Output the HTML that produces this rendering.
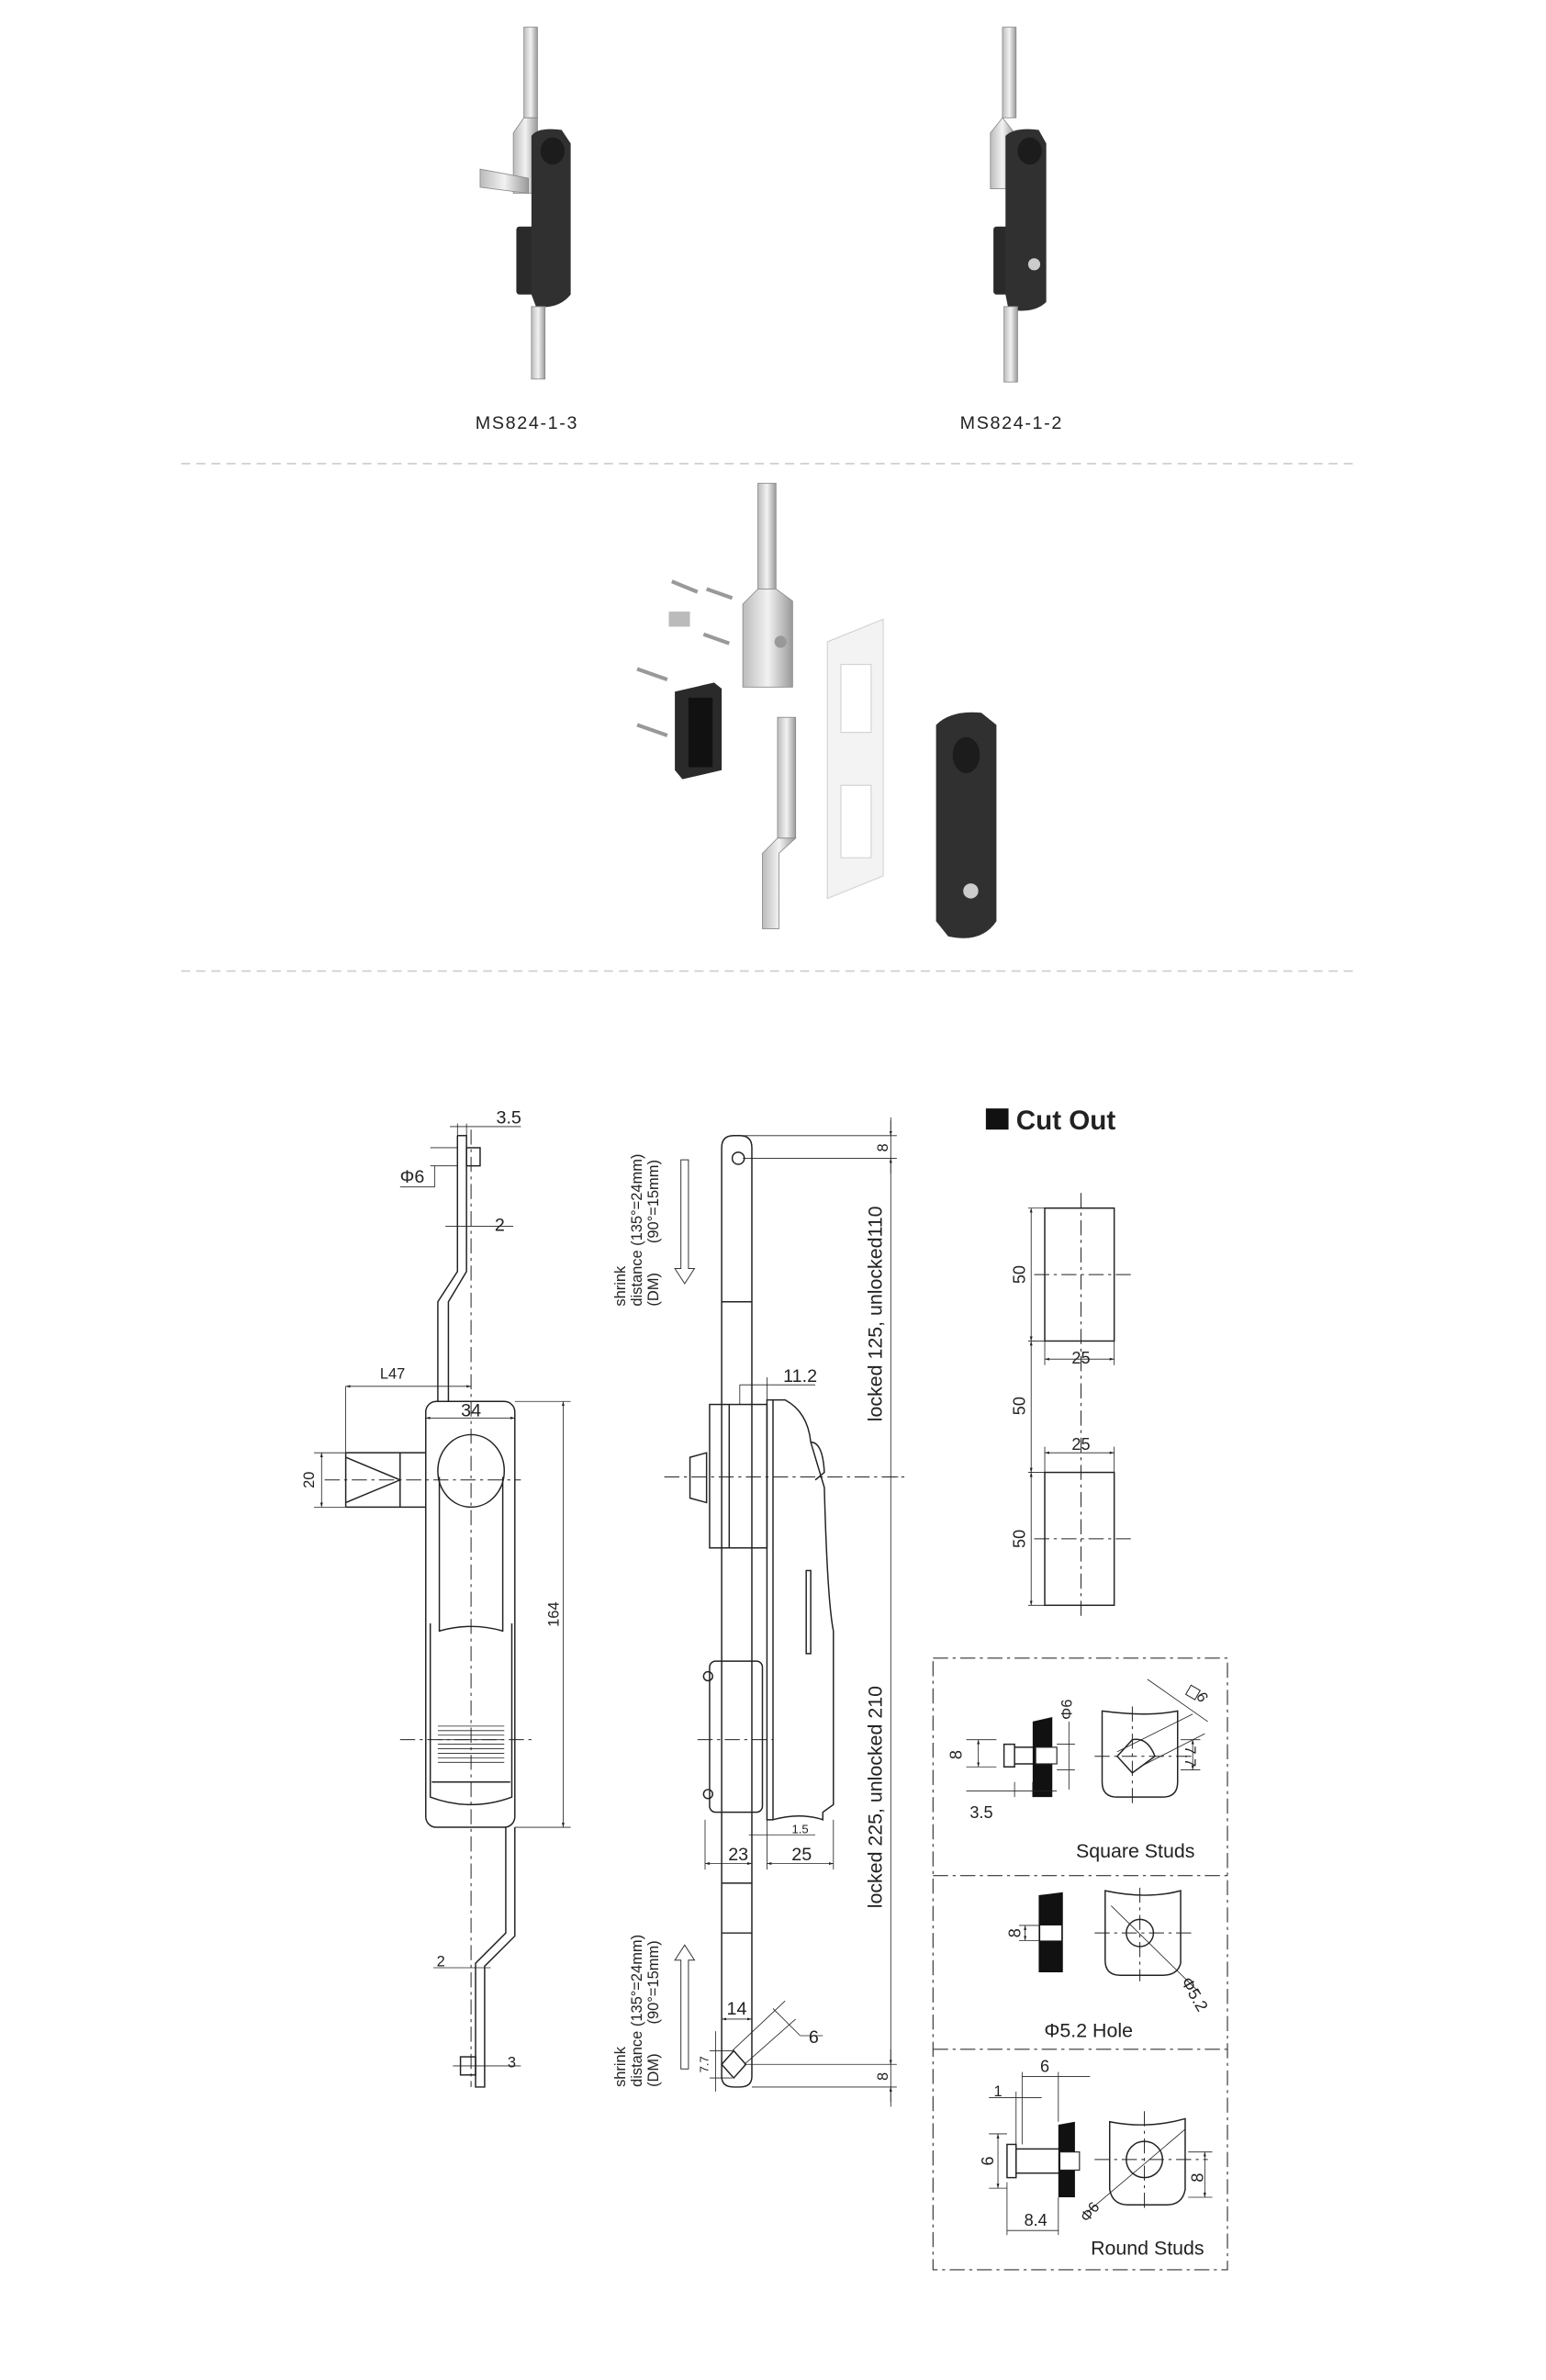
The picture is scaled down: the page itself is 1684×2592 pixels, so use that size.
<!DOCTYPE html>
<html><head><meta charset="utf-8"><style>
html,body{margin:0;padding:0;background:#fff}
svg{display:block}
text{font-family:"Liberation Sans",sans-serif;fill:#222}
.l{fill:none;stroke:#222;stroke-width:.9}
.t{fill:none;stroke:#222;stroke-width:.5}
.c{fill:none;stroke:#222;stroke-width:.6;stroke-dasharray:10 3 2 3}
</style></head><body>
<svg width="1684" height="2592" viewBox="0 0 1024 1576" preserveAspectRatio="none" xmlns="http://www.w3.org/2000/svg">
<defs>
<marker id="a" viewBox="0 0 10 10" refX="10" refY="5" markerWidth="6" markerHeight="6" orient="auto-start-reverse"><path d="M0,2L10,5L0,8z" fill="#222"/></marker>
<linearGradient id="m" x1="0" x2="1"><stop offset="0" stop-color="#bbb"/><stop offset=".5" stop-color="#f2f2f2"/><stop offset="1" stop-color="#999"/></linearGradient>
</defs>
<!-- product 1 -->
<g>
<rect x="347" y="18" width="9" height="60" fill="url(#m)" stroke="#888" stroke-width=".5"/>
<path d="M347,78 L340,88 L340,128 L356,128 L356,88 L356,78z" fill="url(#m)" stroke="#888" stroke-width=".5"/>
<path d="M318,112 L350,118 L350,128 L318,124z" fill="url(#m)" stroke="#888" stroke-width=".5"/>
<rect x="342" y="150" width="20" height="45" rx="2" fill="#2a2a2a"/>
<path d="M352,90 Q356,84 372,86 L378,95 L378,195 Q370,205 355,203 L352,195z" fill="#303030"/>
<ellipse cx="366" cy="100" rx="8" ry="9" fill="#1c1c1c"/>
<rect x="352" y="203" width="9" height="48" fill="url(#m)" stroke="#888" stroke-width=".5"/>
</g>
<!-- product 2 -->
<g>
<rect x="664" y="18" width="9" height="60" fill="url(#m)" stroke="#888" stroke-width=".5"/>
<path d="M664,78 L656,88 L656,125 L672,125 L672,88z" fill="url(#m)" stroke="#888" stroke-width=".5"/>
<rect x="658" y="150" width="20" height="45" rx="2" fill="#2a2a2a"/>
<path d="M666,90 Q672,84 688,86 L693,95 L693,200 Q685,208 668,205 L666,195z" fill="#303030"/>
<ellipse cx="682" cy="100" rx="8" ry="9" fill="#1c1c1c"/>
<circle cx="685" cy="175" r="4" fill="#ccc"/>
<rect x="665" y="203" width="9" height="50" fill="url(#m)" stroke="#888" stroke-width=".5"/>
</g>
<text x="349" y="284" font-size="12" text-anchor="middle" letter-spacing="1">MS824-1-3</text>
<text x="670" y="284" font-size="12" text-anchor="middle" letter-spacing="1">MS824-1-2</text>
<line x1="120" y1="307" x2="897" y2="307" stroke="#ccc" stroke-width="1" stroke-dasharray="6 4"/>
<line x1="120" y1="643" x2="897" y2="643" stroke="#ccc" stroke-width="1" stroke-dasharray="6 4"/>
<!-- exploded -->
<g>
<rect x="502" y="320" width="12" height="70" fill="url(#m)" stroke="#888" stroke-width=".5"/>
<path d="M502,390 L492,400 L492,455 L525,455 L525,398 L514,390z" fill="url(#m)" stroke="#888" stroke-width=".5"/>
<circle cx="517" cy="425" r="4" fill="#999"/>
<rect x="515" y="475" width="12" height="80" fill="url(#m)" stroke="#888" stroke-width=".5"/>
<path d="M515,555 L505,565 L505,615 L516,615 L516,565 L527,555z" fill="url(#m)" stroke="#888" stroke-width=".5"/>
<path d="M548,425 L585,410 L585,580 L548,595z" fill="#f3f3f3" stroke="#ccc" stroke-width=".6"/>
<rect x="557" y="440" width="20" height="45" fill="#fff" stroke="#ccc" stroke-width=".6"/>
<rect x="557" y="520" width="20" height="48" fill="#fff" stroke="#ccc" stroke-width=".6"/>
<path d="M447,458 L473,452 L478,456 L478,510 L452,516 L447,510z" fill="#2a2a2a"/>
<rect x="456" y="462" width="16" height="46" fill="#111"/>
<path d="M620,480 Q630,470 650,472 L660,480 L660,610 Q650,625 628,620 L620,610z" fill="#303030"/>
<ellipse cx="640" cy="500" rx="9" ry="12" fill="#1c1c1c"/>
<circle cx="643" cy="590" r="5" fill="#ccc"/>
<g stroke="#999" stroke-width="2.5"><line x1="468" y1="390" x2="485" y2="396"/><line x1="445" y1="385" x2="462" y2="392"/><line x1="466" y1="420" x2="483" y2="426"/><line x1="422" y1="443" x2="442" y2="450"/><line x1="422" y1="480" x2="442" y2="487"/></g>
<rect x="443" y="405" width="14" height="10" fill="#bbb"/>
</g>
<!-- LEFT DRAWING -->
<g>
<line class="c" x1="312" y1="748" x2="312" y2="1382"/>
<path class="l" d="M303,752 L309,752 L309,842 L297,862 L297,928 M303,752 L303,842 L290,862 L290,928"/>
<rect class="l" x="309" y="760" width="9" height="12"/>
<rect class="l" x="282" y="928" width="59" height="282" rx="7"/>
<path class="l" d="M229,962 L282,962 M229,998 L282,998 M229,962 L229,998 M229,965 L265,980 L229,995 M265,962 L265,998"/>
<ellipse class="l" cx="312" cy="974" rx="22" ry="24"/>
<path class="l" d="M291,978 L291,1080 Q312,1074 333,1080 L333,978"/>
<path class="l" d="M285,1075 L285,1190 Q312,1200 339,1190 L339,1075 M286,1180 L338,1180"/>
<g class="t"><line x1="290" y1="1143" x2="334" y2="1143"/><line x1="290" y1="1146" x2="334" y2="1146"/><line x1="290" y1="1149" x2="334" y2="1149"/><line x1="290" y1="1152" x2="334" y2="1152"/><line x1="290" y1="1155" x2="334" y2="1155"/><line x1="290" y1="1158" x2="334" y2="1158"/><line x1="290" y1="1161" x2="334" y2="1161"/><line x1="290" y1="1164" x2="334" y2="1164"/><line x1="290" y1="1167" x2="334" y2="1167"/></g>
<line class="c" x1="265" y1="1152" x2="355" y2="1152"/>
<line class="c" x1="215" y1="980" x2="345" y2="980"/>
<path class="l" d="M335,1210 L335,1280 L315,1300 L315,1382 L321,1382 L321,1302 L341,1282 L341,1210"/>
<rect class="l" x="305" y="1362" width="10" height="12"/>
<g class="t">
<line x1="229" y1="918" x2="312" y2="918" marker-start="url(#a)" marker-end="url(#a)"/><line x1="229" y1="918" x2="229" y2="962"/>
<line x1="282" y1="939" x2="341" y2="939" marker-start="url(#a)" marker-end="url(#a)"/>
<line x1="208" y1="962" x2="229" y2="962"/><line x1="208" y1="998" x2="229" y2="998"/>
<line x1="213" y1="962" x2="213" y2="998" marker-start="url(#a)" marker-end="url(#a)"/>
<line x1="341" y1="928" x2="378" y2="928"/><line x1="341" y1="1210" x2="378" y2="1210"/>
<line x1="373" y1="928" x2="373" y2="1210" marker-start="url(#a)" marker-end="url(#a)"/>
<line x1="298" y1="746" x2="345" y2="746"/><line x1="303" y1="744" x2="303" y2="752"/><line x1="309" y1="744" x2="309" y2="752"/>
<line x1="285" y1="760" x2="303" y2="760"/><line x1="285" y1="772" x2="303" y2="772"/><line x1="288" y1="772" x2="288" y2="786"/><line x1="265" y1="786" x2="288" y2="786"/>
<line x1="295" y1="812" x2="340" y2="812"/>
<line x1="287" y1="1303" x2="325" y2="1303"/>
<line x1="300" y1="1368" x2="345" y2="1368"/>
</g>
<text x="337" y="744" font-size="12" text-anchor="middle">3.5</text>
<text x="273" y="783" font-size="12" text-anchor="middle">Φ6</text>
<text x="331" y="815" font-size="12" text-anchor="middle">2</text>
<text x="260" y="913" font-size="10" text-anchor="middle">L47</text>
<text x="312" y="938" font-size="12" text-anchor="middle">34</text>
<text font-size="10" text-anchor="middle" transform="translate(208,980) rotate(-90)">20</text>
<text font-size="10" text-anchor="middle" transform="translate(370,1069) rotate(-90)">164</text>
<text x="292" y="1302" font-size="10" text-anchor="middle">2</text>
<text x="339" y="1369" font-size="10" text-anchor="middle">3</text>
</g>
<!-- MIDDLE DRAWING -->
<g>
<path class="l" d="M478,1375 L478,760 Q478,752 486,752 L490,752 Q498,752 498,760 L498,1375 Q498,1382 490,1382 L486,1382 Q478,1382 478,1375z"/>
<circle class="l" cx="489" cy="767" r="4"/>
<line class="l" x1="478" y1="862" x2="498" y2="862"/><line class="l" x1="478" y1="1247" x2="498" y2="1247"/><line class="l" x1="478" y1="1280" x2="498" y2="1280"/>
<rect class="l" x="470" y="930" width="38" height="95" fill="#fff"/>
<line class="l" x1="483" y1="930" x2="483" y2="1025"/>
<path class="l" d="M457,965 L468,962 L468,995 L457,992z" fill="#fff"/>
<path class="l" d="M508,927 L520,927 Q535,935 537,955 L546,985 Q548,1060 552,1080 L552,1195 L545,1200 L545,1205 Q530,1200 512,1205 L508,1205z" fill="#fff"/>
<line class="l" x1="512" y1="927" x2="512" y2="1205"/>
<path class="l" d="M537,955 Q545,955 546,975 L540,980"/>
<rect class="l" x="534" y="1040" width="3" height="55"/>
<rect class="l" x="470" y="1100" width="35" height="100" rx="4" fill="#fff"/>
<circle class="l" cx="469" cy="1110" r="3"/><circle class="l" cx="469" cy="1188" r="3"/>
<line class="c" x1="440" y1="978" x2="600" y2="978"/>
<line class="c" x1="462" y1="1152" x2="512" y2="1152"/>
<path class="l" d="M486,1358 L494,1367 L486,1376 L478,1367z"/>
<g class="t">
<line x1="489" y1="752" x2="594" y2="752"/><line x1="492" y1="767" x2="594" y2="767"/><line x1="498" y1="1382" x2="594" y2="1382"/><line x1="494" y1="1367" x2="594" y2="1367"/>
<line x1="590" y1="740" x2="590" y2="1395"/>
<line x1="590" y1="742" x2="590" y2="752" marker-end="url(#a)"/><line x1="590" y1="777" x2="590" y2="767" marker-end="url(#a)"/>
<line x1="590" y1="1357" x2="590" y2="1367" marker-end="url(#a)"/><line x1="590" y1="1392" x2="590" y2="1382" marker-end="url(#a)"/>
<line x1="585" y1="978" x2="595" y2="978"/>
<line x1="490" y1="917" x2="540" y2="917"/><line x1="490" y1="917" x2="490" y2="930"/><line x1="508" y1="912" x2="508" y2="927"/>
<line x1="467" y1="1205" x2="467" y2="1238"/><line x1="498" y1="1205" x2="498" y2="1238"/><line x1="552" y1="1205" x2="552" y2="1238"/><line x1="508" y1="1205" x2="508" y2="1238"/>
<line x1="467" y1="1234" x2="498" y2="1234" marker-start="url(#a)" marker-end="url(#a)"/>
<line x1="508" y1="1234" x2="552" y2="1234" marker-start="url(#a)" marker-end="url(#a)"/>
<line x1="496" y1="1215" x2="540" y2="1215"/>
<line x1="478" y1="1337" x2="498" y2="1337" marker-start="url(#a)" marker-end="url(#a)"/>
<line x1="512" y1="1330" x2="530" y2="1348"/><line x1="530" y1="1348" x2="545" y2="1348"/>
<line x1="485" y1="1358" x2="520" y2="1325"/><line x1="493" y1="1367" x2="527" y2="1337"/>
<line x1="470" y1="1358" x2="485" y2="1358"/><line x1="470" y1="1376" x2="485" y2="1376"/><line x1="474" y1="1345" x2="474" y2="1385"/>
</g>
<path d="M451,768 L456,768 L456,840 L460,840 L453.5,850 L447,840 L451,840z" fill="#fff" stroke="#333" stroke-width=".6"/>
<path d="M451,1370 L456,1370 L456,1298 L460,1298 L453.5,1288 L447,1298 L451,1298z" fill="#fff" stroke="#333" stroke-width=".6"/>
<g font-size="10">
<text transform="translate(414,865) rotate(-90)">shrink</text>
<text transform="translate(425,865) rotate(-90)">distance (135°=24mm)</text>
<text transform="translate(436,865) rotate(-90)">(DM)&#160;&#160;&#160;&#160;&#160;&#160;&#160;(90°=15mm)</text>
<text transform="translate(414,1382) rotate(-90)">shrink</text>
<text transform="translate(425,1382) rotate(-90)">distance (135°=24mm)</text>
<text transform="translate(436,1382) rotate(-90)">(DM)&#160;&#160;&#160;&#160;&#160;&#160;&#160;(90°=15mm)</text>
</g>
<text font-size="13" text-anchor="middle" transform="translate(584,870) rotate(-90)">locked 125, unlocked110</text>
<text font-size="13" text-anchor="middle" transform="translate(584,1190) rotate(-90)">locked 225, unlocked 210</text>
<text font-size="10" text-anchor="middle" transform="translate(588,760) rotate(-90)">8</text>
<text font-size="10" text-anchor="middle" transform="translate(588,1375) rotate(-90)">8</text>
<text x="530" y="915" font-size="12" text-anchor="middle">11.2</text>
<text x="489" y="1232" font-size="12" text-anchor="middle">23</text>
<text x="531" y="1232" font-size="12" text-anchor="middle">25</text>
<text x="530" y="1214" font-size="8" text-anchor="middle">1.5</text>
<text x="488" y="1334" font-size="12" text-anchor="middle">14</text>
<text x="539" y="1353" font-size="12" text-anchor="middle">6</text>
<text font-size="8" text-anchor="middle" transform="translate(469,1367) rotate(-90)">7.7</text>
</g>
<!-- CUT OUT -->
<rect x="653" y="734" width="15" height="14" fill="#111"/>
<text x="673" y="748" font-size="18" font-weight="bold">Cut Out</text>
<g>
<rect class="l" x="692" y="800" width="46" height="88"/>
<rect class="l" x="692" y="975" width="46" height="88"/>
<line class="c" x1="716" y1="790" x2="716" y2="1070"/>
<line class="c" x1="685" y1="844" x2="750" y2="844"/><line class="c" x1="685" y1="1019" x2="750" y2="1019"/>
<g class="t">
<line x1="681" y1="800" x2="692" y2="800"/><line x1="681" y1="888" x2="692" y2="888"/><line x1="681" y1="975" x2="692" y2="975"/><line x1="681" y1="1063" x2="692" y2="1063"/>
<line x1="683" y1="800" x2="683" y2="888" marker-start="url(#a)" marker-end="url(#a)"/>
<line x1="683" y1="888" x2="683" y2="975" marker-start="url(#a)" marker-end="url(#a)"/>
<line x1="683" y1="975" x2="683" y2="1063" marker-start="url(#a)" marker-end="url(#a)"/>
<line x1="692" y1="900" x2="738" y2="900" marker-start="url(#a)" marker-end="url(#a)"/><line x1="692" y1="888" x2="692" y2="904"/><line x1="738" y1="888" x2="738" y2="904"/>
<line x1="692" y1="962" x2="738" y2="962" marker-start="url(#a)" marker-end="url(#a)"/><line x1="692" y1="958" x2="692" y2="975"/><line x1="738" y1="958" x2="738" y2="975"/>
</g>
<g font-size="11" text-anchor="middle">
<text transform="translate(679,844) rotate(-90)">50</text>
<text transform="translate(679,931) rotate(-90)">50</text>
<text transform="translate(679,1019) rotate(-90)">50</text>
<text x="716" y="903">25</text><text x="716" y="960">25</text>
</g>
</g>
<!-- STUDS BOX -->
<g>
<rect x="618" y="1098" width="195" height="405" fill="none" stroke="#333" stroke-width=".7" stroke-dasharray="10 3 2 3"/>
<line x1="618" y1="1242" x2="813" y2="1242" stroke="#333" stroke-width=".7" stroke-dasharray="10 3 2 3"/>
<line x1="618" y1="1357" x2="813" y2="1357" stroke="#333" stroke-width=".7" stroke-dasharray="10 3 2 3"/>
<!-- square studs -->
<path class="l" d="M665,1155 L672,1155 L672,1170 L665,1170z M672,1157 L686,1157 L686,1168 L672,1168"/>
<path d="M684,1140 L697,1137 L697,1190 L684,1190z" fill="#111"/>
<rect x="686" y="1157" width="14" height="11" fill="#fff" stroke="#222" stroke-width=".7"/>
<path class="l" d="M730,1133 Q760,1137 780,1133 L780,1180 Q780,1190 770,1190 L740,1190 Q730,1190 730,1180z"/>
<path class="l" d="M740,1163 L750,1152 Q760,1150 765,1163 L750,1174z"/>
<line class="c" x1="725" y1="1163" x2="790" y2="1163"/><line class="c" x1="750" y1="1130" x2="750" y2="1195"/>
<g class="t">
<line x1="640" y1="1152" x2="660" y2="1152"/><line x1="640" y1="1170" x2="660" y2="1170"/><line x1="648" y1="1152" x2="648" y2="1170" marker-start="url(#a)" marker-end="url(#a)"/>
<line x1="640" y1="1186" x2="700" y2="1186"/><line x1="672" y1="1180" x2="672" y2="1190"/><line x1="684" y1="1180" x2="684" y2="1190"/>
<line x1="700" y1="1155" x2="712" y2="1155"/><line x1="700" y1="1172" x2="712" y2="1172"/><line x1="708" y1="1140" x2="708" y2="1185"/>
<line x1="782" y1="1152" x2="795" y2="1152"/><line x1="782" y1="1172" x2="795" y2="1172"/><line x1="790" y1="1152" x2="790" y2="1172" marker-start="url(#a)" marker-end="url(#a)"/>
<line x1="760" y1="1112" x2="800" y2="1140"/><line x1="740" y1="1160" x2="790" y2="1135"/><line x1="755" y1="1170" x2="798" y2="1148"/>
</g>
<rect x="787" y="1117" width="7" height="7" fill="none" stroke="#222" stroke-width=".6" transform="rotate(30 790 1120)"/>
<text x="650" y="1204" font-size="11" text-anchor="middle">3.5</text>
<text font-size="11" text-anchor="middle" transform="translate(637,1162) rotate(-90)">8</text>
<text font-size="10" text-anchor="middle" transform="translate(710,1132) rotate(-90)">Φ6</text>
<text font-size="10" text-anchor="middle" transform="translate(785,1163) rotate(90)">7.7</text>
<text font-size="10" transform="translate(792,1123) rotate(60)">6</text>
<text x="752" y="1230" font-size="13" text-anchor="middle">Square Studs</text>
<!-- hole -->
<path d="M688,1255 L704,1253 L704,1306 L688,1306z" fill="#111"/>
<rect x="689" y="1275" width="14" height="10" fill="#fff"/>
<g class="t"><line x1="675" y1="1275" x2="688" y2="1275"/><line x1="675" y1="1285" x2="688" y2="1285"/><line x1="679" y1="1275" x2="679" y2="1285" marker-start="url(#a)" marker-end="url(#a)"/></g>
<text font-size="11" text-anchor="middle" transform="translate(676,1280) rotate(-90)">8</text>
<path class="l" d="M732,1252 Q760,1258 782,1252 L782,1300 Q780,1308 770,1308 L742,1308 Q732,1308 732,1298z"/>
<circle class="l" cx="755" cy="1280" r="9"/>
<line class="c" x1="725" y1="1280" x2="790" y2="1280"/><line class="c" x1="755" y1="1250" x2="755" y2="1312"/>
<line class="t" x1="736" y1="1262" x2="795" y2="1320"/>
<text font-size="11" transform="translate(782,1312) rotate(60)">Φ5.2</text>
<text x="721" y="1349" font-size="13" text-anchor="middle">Φ5.2 Hole</text>
<!-- round studs -->
<rect class="l" x="667" y="1420" width="6" height="22"/>
<rect class="l" x="673" y="1423" width="30" height="16"/>
<path d="M701,1407 L712,1405 L712,1455 L701,1455z" fill="#111"/>
<rect x="702" y="1425" width="13" height="12" fill="#fff" stroke="#222" stroke-width=".7"/>
<path class="l" d="M735,1405 Q760,1410 785,1403 L785,1450 Q783,1460 773,1460 L747,1460 Q737,1460 735,1450z"/>
<circle class="l" cx="758" cy="1430" r="12"/>
<line class="c" x1="725" y1="1430" x2="800" y2="1430"/><line class="c" x1="758" y1="1398" x2="758" y2="1465"/>
<g class="t">
<line x1="677" y1="1375" x2="722" y2="1375"/><line x1="677" y1="1372" x2="677" y2="1420"/><line x1="701" y1="1372" x2="701" y2="1405"/>
<line x1="655" y1="1389" x2="690" y2="1389"/><line x1="673" y1="1385" x2="673" y2="1420"/>
<line x1="655" y1="1413" x2="667" y2="1413"/><line x1="655" y1="1449" x2="667" y2="1449"/><line x1="661" y1="1413" x2="661" y2="1449" marker-start="url(#a)" marker-end="url(#a)"/>
<line x1="667" y1="1477" x2="701" y2="1477"/><line x1="667" y1="1445" x2="667" y2="1480"/><line x1="701" y1="1455" x2="701" y2="1480"/>
<line x1="787" y1="1425" x2="803" y2="1425"/><line x1="787" y1="1455" x2="803" y2="1455"/><line x1="798" y1="1425" x2="798" y2="1455" marker-start="url(#a)" marker-end="url(#a)"/>
<line x1="720" y1="1465" x2="785" y2="1410"/>
</g>
<text x="692" y="1372" font-size="11" text-anchor="middle">6</text>
<text x="661" y="1388" font-size="10" text-anchor="middle">1</text>
<text font-size="11" text-anchor="middle" transform="translate(658,1431) rotate(-90)">6</text>
<text x="686" y="1474" font-size="11" text-anchor="middle">8.4</text>
<text font-size="11" text-anchor="middle" transform="translate(797,1442) rotate(-90)">8</text>
<text font-size="10" transform="translate(720,1472) rotate(-50)">Φ6</text>
<text x="760" y="1493" font-size="13" text-anchor="middle">Round Studs</text>
</g>
</svg>
</body></html>
